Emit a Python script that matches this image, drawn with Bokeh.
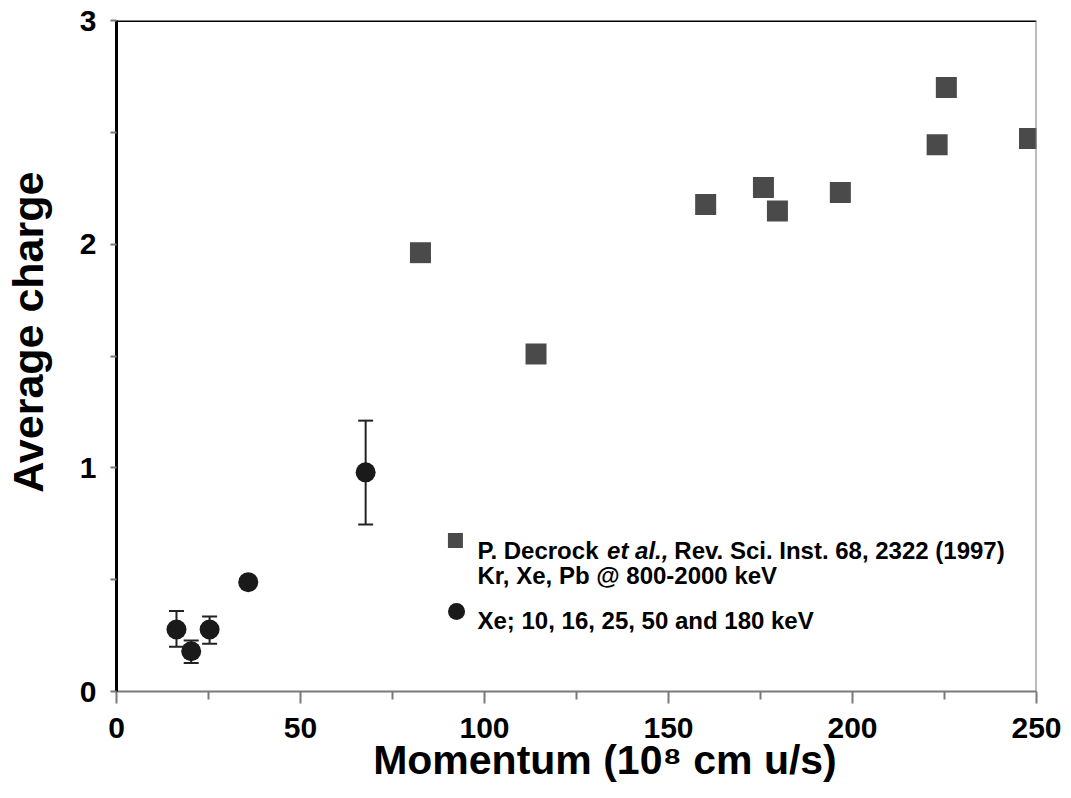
import math
from bokeh.plotting import figure
from bokeh.models import Range1d, FixedTicker, Label, Span
from bokeh.embed import file_html
from bokeh.resources import INLINE

nan = float("nan")

# Data
sq_x = [82.6, 114.0, 160.1, 175.8, 179.6, 196.7, 223.0, 225.5, 248.1]
sq_y = [1.962, 1.509, 2.177, 2.253, 2.148, 2.231, 2.445, 2.700, 2.472]

ci_x = [16.3, 20.3, 25.3, 35.8, 67.7]
ci_y = [0.277, 0.180, 0.277, 0.489, 0.980]
ci_lo = [0.200, 0.127, 0.213, nan, 0.747]
ci_hi = [0.360, 0.228, 0.335, nan, 1.211]

x_ticks = [0, 50, 100, 150, 200, 250]
x_minor = [25, 75, 125, 175, 225]
y_ticks = [0, 1, 2, 3]
y_minor = [0.5, 1.5, 2.5]

legend_sq = (92.1, 0.675)
legend_ci = (92.4, 0.358)

FONT = "Liberation Sans"
SQ_COLOR = "#4a4a4a"
CI_COLOR = "#1a1a1a"
GRAY = "#7a7a7a"
NB = "\u00a0"

p = figure(width=1071, height=798, x_range=Range1d(0, 250), y_range=Range1d(0, 3),
           output_backend="svg", toolbar_location=None,
           min_border_left=116, min_border_right=35, min_border_top=20, min_border_bottom=107)
p.outline_line_color = None
p.xgrid.visible = False
p.ygrid.visible = False
p.background_fill_color = "white"
p.border_fill_color = "white"

# axes
p.xaxis.ticker = FixedTicker(ticks=x_ticks, minor_ticks=x_minor)
p.yaxis.ticker = FixedTicker(ticks=y_ticks, minor_ticks=y_minor)
for ax in (p.xaxis, p.yaxis):
    ax.major_label_text_font = FONT
    ax.major_label_text_font_style = "bold"
    ax.major_label_text_font_size = "30px"
    ax.major_label_text_color = "black"
    ax.axis_label_text_font = FONT
    ax.axis_label_text_font_style = "bold"
    ax.axis_label_text_color = "black"
    ax.major_tick_in = 0
    ax.minor_tick_in = 0
    ax.major_tick_line_color = GRAY
    ax.minor_tick_line_color = GRAY
    ax.major_tick_line_width = 2
    ax.minor_tick_line_width = 2

p.xaxis.axis_line_color = GRAY
p.xaxis.axis_line_width = 2
p.xaxis.major_tick_out = 12
p.xaxis.minor_tick_out = 8
p.xaxis.major_label_standoff = 14
p.xaxis.axis_label = NB * 5 + "Momentum (10\u2078 cm u/s)"
p.xaxis.axis_label_text_font_size = "41px"
p.xaxis.axis_label_standoff = -4

p.yaxis.axis_line_color = "black"
p.yaxis.axis_line_width = 3
p.yaxis.major_tick_out = 6
p.yaxis.minor_tick_out = 6
p.yaxis.major_label_standoff = 14
p.yaxis.axis_label = NB * 4 + "Average charge"
p.yaxis.axis_label_text_font_size = "43px"
p.yaxis.axis_label_standoff = 25

p.add_layout(Span(location=3, dimension="width", line_color="black", line_width=3))
p.add_layout(Span(location=250, dimension="height", line_color=GRAY, line_width=2))

# error bars
p.segment(x0=ci_x, y0=ci_lo, x1=ci_x, y1=ci_hi, line_color="#222222", line_width=2)
p.scatter(x=ci_x, y=ci_lo, marker="dash", size=15, line_color="#222222", line_width=2)
p.scatter(x=ci_x, y=ci_hi, marker="dash", size=15, line_color="#222222", line_width=2)

# data
p.scatter(x=sq_x, y=sq_y, marker="square", size=21, fill_color=SQ_COLOR, line_color=None)
p.scatter(x=ci_x, y=ci_y, marker="circle", size=20, fill_color=CI_COLOR, line_color=None)

# legend markers
p.scatter(x=[legend_sq[0]], y=[legend_sq[1]], marker="square", size=15, fill_color=SQ_COLOR, line_color=None)
p.scatter(x=[legend_ci[0]], y=[legend_ci[1]], marker="circle", size=17, fill_color=CI_COLOR, line_color=None)

def lab(text, x, y, size, style="bold"):
    p.add_layout(Label(x=x, y=y, x_units="screen", y_units="screen", text=text,
                       text_font=FONT, text_font_style=style, text_font_size=f"{size}px",
                       text_color="black", text_baseline="alphabetic", text_align="left"))

# legend texts
LF = 24
lx = 361
lab("P. Decrock", lx, 141, LF)
lab("et al.,", lx + 5.40 * LF, 141, LF, style="bold italic")
lab("Rev. Sci. Inst. 68, 2322 (1997)", lx + 8.20 * LF, 141, LF)
lab("Kr, Xe, Pb @ 800-2000 keV", lx, 116, LF)
lab("Xe; 10, 16, 25, 50 and 180 keV", lx, 71, LF)

open("out.html", "w").write(file_html(p, INLINE))
